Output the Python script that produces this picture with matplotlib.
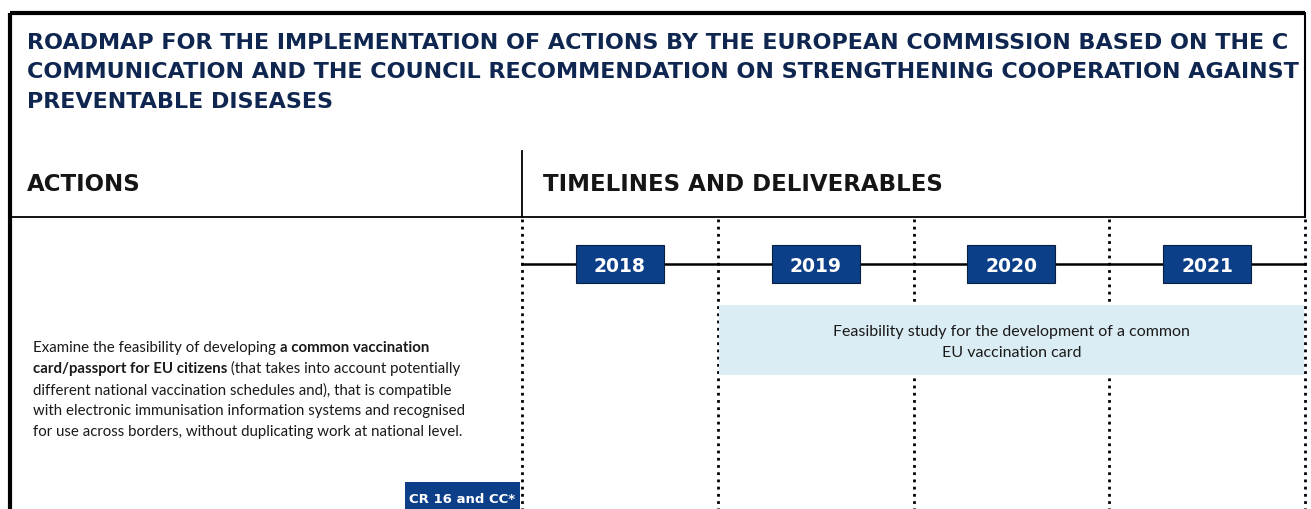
import matplotlib.pyplot as plt
from matplotlib.patches import Rectangle

# ---- data ----
# title as visible in the (cropped) source image
title_lines = [
    "ROADMAP FOR THE IMPLEMENTATION OF ACTIONS BY THE EUROPEAN COMMISSION BASED ON THE C",
    "COMMUNICATION AND THE COUNCIL RECOMMENDATION ON STRENGTHENING COOPERATION AGAINST",
    "PREVENTABLE DISEASES",
]
col_headers = ["ACTIONS", "TIMELINES AND DELIVERABLES"]
years = [2018, 2019, 2020, 2021]

# action text, one list of (segment, bold) per line
action_lines = [
    [("Examine the feasibility of developing ", False), ("a common vaccination", True)],
    [("card/passport for EU citizens", True), (" (that takes into account potentially", False)],
    [("different national vaccination schedules and), that is compatible", False)],
    [("with electronic immunisation information systems and recognised", False)],
    [("for use across borders, without duplicating work at national level.", False)],
]
deliverable_text = "Feasibility study for the development of a common\nEU vaccination card"
deliverable_start = 2019
deliverable_end = 2022
reference_tag = "CR 16 and CC*"

# ---- colours ----
navy = "#0c3f88"
title_col = "#0f2750"
band_col = "#dbedf4"

W, H = 1311, 510
fig = plt.figure(figsize=(W / 100, H / 100), dpi=100, facecolor="white")

# full-figure axes in pixel units (y downwards)
ax = fig.add_axes([0, 0, 1, 1])
ax.set_xlim(0, W)
ax.set_ylim(H, 0)
ax.axis("off")

# outer frame
ax.plot([10, 10], [H + 5, 13.5], color="black", lw=3, solid_capstyle="butt")
ax.plot([10, 1305], [13.5, 13.5], color="black", lw=3, solid_capstyle="butt")
ax.plot([1305, 1305], [13.5, 218], color="black", lw=1.5)

for i, line in enumerate(title_lines):
    ax.text(27, 43 + i * 29.5, line, fontsize=16, fontweight="bold",
            color=title_col, va="center", ha="left")

# column headers
ax.text(27, 185, col_headers[0], fontsize=16.5, fontweight="bold",
        color="#151515", va="center", ha="left")
ax.text(543, 185, col_headers[1], fontsize=16.5, fontweight="bold",
        color="#151515", va="center", ha="left")
ax.plot([12, 1305], [218, 218], color="black", lw=1.3)
ax.plot([522, 522], [152, 218], color="black", lw=1.3)

# action description with bold fragments
for i, segs in enumerate(action_lines):
    y = 348 + i * 21
    prev = None
    for seg, bold in segs:
        kw = dict(fontsize=10.8, fontweight="bold" if bold else "normal",
                  color="#1a1a1a", family="Lato")
        if prev is None:
            prev = ax.text(33, y, seg, va="center", ha="left", **kw)
        else:
            prev = ax.annotate(seg, xy=(1, 0), xycoords=prev,
                               va="bottom", ha="left", **kw)

# reference tag box
ax.add_patch(Rectangle((405, 483), 115, 40, facecolor=navy, edgecolor="none"))
ax.text(462, 500, reference_tag, fontsize=9.5, fontweight="bold",
        color="white", ha="center", va="center")

# ---- timeline axes in year units ----
tl = fig.add_axes([522 / W, 0, (1305 - 522) / W, (H - 218) / H])
tl.set_xlim(years[0], years[-1] + 1)
tl.set_ylim(H, 218)
tl.axis("off")

# year separators
for yr in years + [years[-1] + 1]:
    tl.plot([yr, yr], [220, H], color="black", lw=2, ls=(0, (1, 1.6)),
            clip_on=False, zorder=2)

# deliverable band (covers the separators)
tl.add_patch(Rectangle((deliverable_start + 0.006, 306),
                       deliverable_end - deliverable_start - 0.012, 70,
                       facecolor=band_col, edgecolor="none", zorder=3))
tl.text((deliverable_start + deliverable_end) / 2, 342.5, deliverable_text,
        ha="center", va="center", fontsize=11.5, family="Lato",
        color="#1a1a1a", linespacing=1.65, zorder=4)

# timeline axis
tl.plot([years[0], years[-1] + 1], [265, 265], color="black", lw=1.8,
        clip_on=False, zorder=2)

# year boxes
bw = 0.45
for yr in years:
    tl.add_patch(Rectangle((yr + 0.5 - bw / 2, 246), bw, 38, facecolor=navy,
                           edgecolor="#0a1f40", lw=0.8, zorder=4))
    tl.text(yr + 0.5, 266, str(yr), ha="center", va="center", fontsize=13.5,
            fontweight="bold", color="white", zorder=5)

fig.savefig("out.png", dpi=100, facecolor="white")
